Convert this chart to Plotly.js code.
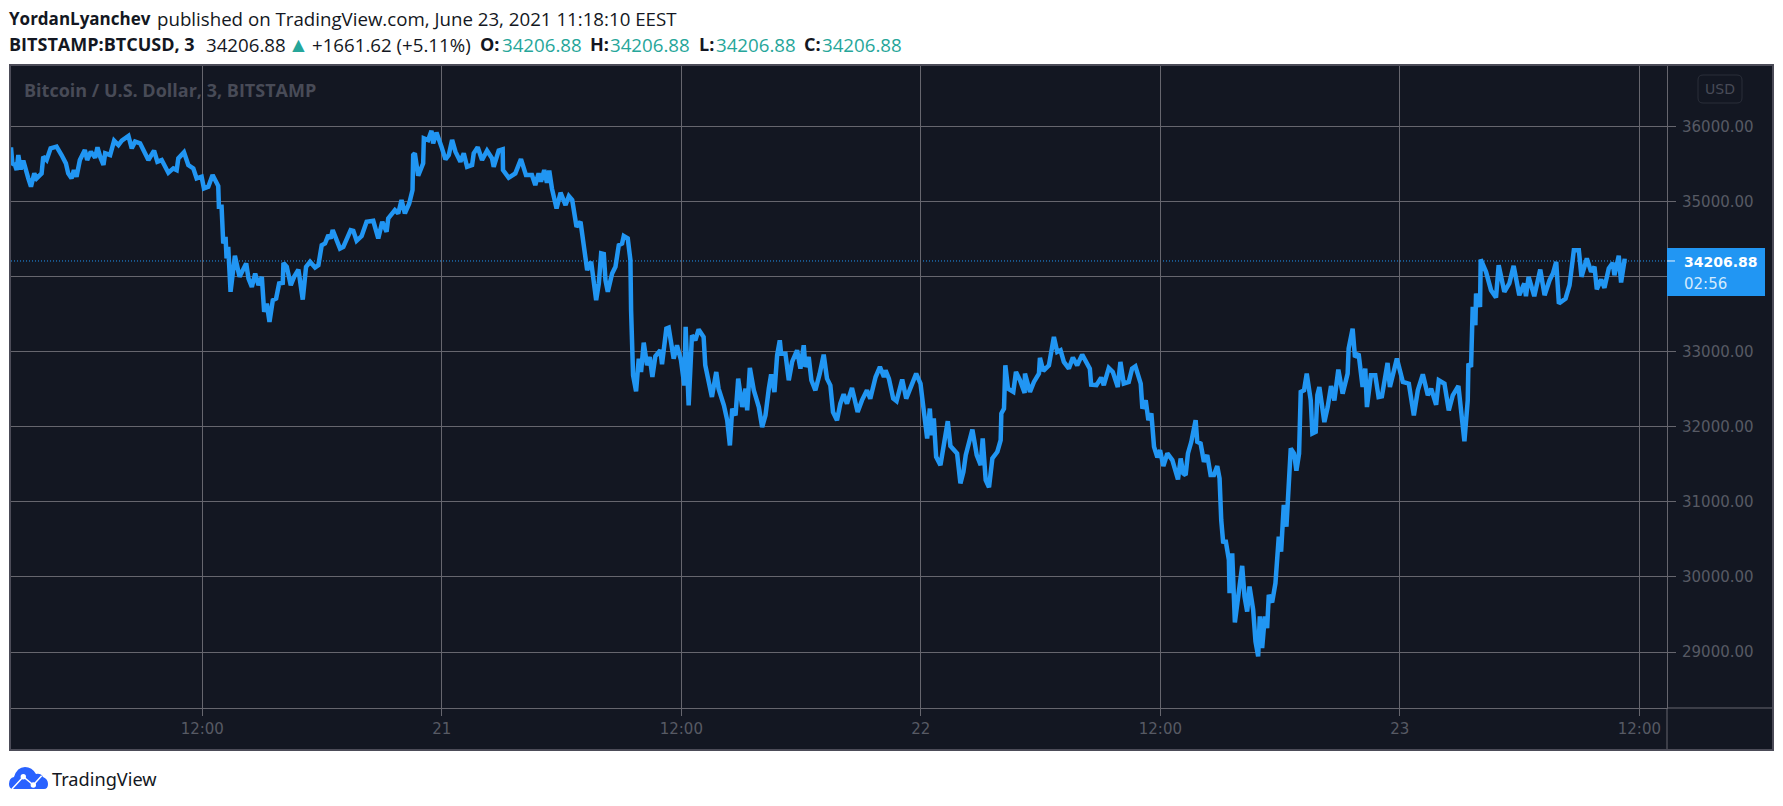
<!DOCTYPE html>
<html>
<head>
<meta charset="utf-8">
<script src="https://cdn.plot.ly/plotly-3.0.1.min.js"></script>
<style>html,body{margin:0;padding:0;background:#fff;overflow:hidden}</style>
</head>
<body>
<div id="myDiv" style="width:1783px;height:806px"></div>
<script>
// minutes since 2021-06-20 00:00
var minutes = [145,149,157,162,167,174,182,190,197,205,215,222,237,242,252,264,282,297,310,317,327,334,342,352,367,374,385,398,405,413,423,428,443,455,468,478,498,508,518,533,558,575,585,598,618,633,643,648,665,678,693,703,718,725,738,751,768,770,778,783,790,793,798,805,818,832,842,852,859,869,879,889,899,906,914,922,932,942,951,962,964,974,986,996,1009,1022,1032,1044,1059,1069,1079,1089,1099,1106,1112,1124,1134,1144,1154,1166,1174,1184,1199,1214,1234,1249,1261,1274,1279,1299,1309,1319,1329,1342,1352,1354,1359,1369,1384,1386,1399,1409,1414,1424,1439,
1451,1461,1471,1481,1496,1506,1516,1531,1536,1548,1561,1576,1591,1596,1611,1623,1624,1641,1661,1678,1693,1711,1721,1731,1738,1748,1756,1763,1771,1785,1797,1812,1822,1832,1845,1857,1867,1877,1889,1897,1904,1912,1919,1927,1932,1939,1952,1962,1972,1982,1987,1999,2007,2009,2012,2015,2024,2032,2039,2047,2057,2065,2073,2082,2097,2102,2115,2122,2137,2147,2159,2169,2173,2182,2192,2202,2212,2227,2232,2242,2252,2265,2272,2288,2298,2306,2313,2323,2331,2343,2353,2358,2366,2378,2393,2403,2413,2423,2430,2440,2448,2456,2460,2473,2483,2493,2508,2518,2528,2533,2543,2551,2563,2576,2588,2598,2608,2616,2628,2638,2648,2658,2673,2690,2703,2718,2728,2744,2757,
2769,2774,2784,2797,2807,2824,2836,2854,2866,2879,2884,2899,2907,2912,2919,2926,2939,2951,2961,2969,2989,2999,3008,3015,3025,3035,3048,3060,3066,3075,3085,3095,3110,3120,3122,3130,3134,3142,3158,3166,3178,3192,3193,3208,3220,3235,3238,3248,3265,3280,3290,3300,3310,3325,3337,3350,3365,3380,3388,3392,3408,3422,3430,3445,3457,3472,3480,3490,3505,3515,3525,3541,3546,3556,3564,3573,3581,3591,3599,3609,3621,3636,3653,3661,3669,3676,3683,3693,3706,3711,3721,3731,3741,3751,3761,3771,3778,3783,3789,3796,3806,3808,3816,3824,3836,3846,3853,3861,3868,3879,3886,3894,3899,3906,3914,3921,3926,3936,3946,3956,3963,3971,3979,3990,3992,4002,4009,4017,4022,4032,4040,4052,4057,4067,4072,
4078,4093,4103,4113,4123,4135,4148,4163,4166,4178,4185,4196,4208,4216,4221,4233,4246,4256,4266,4283,4290,4311,4329,4347,4362,4374,4389,4404,4414,4429,4437,4454,4467,4479,4496,4504,4514,4524,4526,4534,4539,4547,4549,4561,4563,4579,4594,4609,4617,4634,4649,4662,4679,4694,4699,4707,4724,4742,4755,4770,4780,4790,4798,4818,4830,4843,4858,4866,4882,4895,4905,4912,4925,4935,4948,4960,4965,4978,4985,4995,5002];
var prices = [35720,35507,35485,35418,35618,35427,35542,35440,35307,35196,35373,35307,35373,35596,35551,35707,35729,35618,35507,35373,35307,35418,35329,35551,35684,35551,35662,35582,35720,35596,35485,35640,35618,35809,35751,35809,35871,35707,35796,35773,35551,35676,35529,35551,35382,35440,35418,35573,35653,35485,35440,35307,35329,35173,35196,35351,35204,34929,34929,34440,34529,34240,34396,33796,34276,33996,34085,34174,33973,33862,34040,33885,33996,33529,33640,33396,33685,33707,33907,33916,34182,34129,33885,33996,34093,33693,34129,34196,34120,34151,34418,34440,34551,34507,34618,34462,34373,34396,34507,34618,34609,34476,34538,34729,34742,34507,34729,34596,34773,34885,34840,35018,34840,34973,35151,35618,35640,35342,35507,35840,35818,35942,35773,35916,35729,
35560,35618,35818,35662,35529,35640,35462,35485,35640,35720,35551,35676,35573,35462,35676,35693,35418,35316,35373,35564,35351,35351,35218,35373,35262,35418,35249,35409,35173,34907,35116,34951,35071,35018,34662,34729,34351,34085,34196,33907,33685,33907,34307,34298,33951,33796,34040,34129,34418,34440,34538,34507,34218,33551,32929,32685,32471,32907,32729,33120,32818,32929,32662,32938,33018,32831,33307,33320,32907,33085,32885,32551,33329,32285,33218,33151,33294,33196,32818,32609,32396,32729,32507,32285,32085,31751,32240,32151,32640,32262,32507,32218,32782,32485,32262,31996,32151,32507,32698,32462,32951,33151,32973,32973,32618,32862,33018,32773,33085,32796,32929,32618,32485,32707,32960,32640,32551,32196,32085,32307,32431,32307,32516,32196,32351,32485,32373,32662,32796,
32663,32752,32641,32375,32340,32628,32375,32553,32708,32575,32398,31844,32242,31888,32110,31600,31489,31799,32074,31742,31644,31246,31401,31622,31799,31963,31622,31489,31844,31290,31193,31578,31667,31822,32176,32242,32818,32508,32464,32730,32619,32451,32708,32464,32597,32708,32916,32743,32818,33195,32996,33018,32863,32774,32920,32818,32960,32818,32774,32561,32553,32654,32553,32783,32730,32530,32863,32575,32597,32774,32805,32575,32242,32353,32087,32176,31733,31591,31689,31476,31644,31556,31299,31578,31379,31356,31644,31799,32087,31799,31777,31534,31622,31356,31356,31476,31312,30758,30448,30493,30227,29784,30315,29394,29828,30147,29740,29540,29872,29562,29141,28942,29474,29053,29474,29319,29762,29660,29917,30537,30338,30958,30670,31379,31711,31644,31414,31644,32464,32486,32708,32353,31910,31932,32420,
32529,32062,32262,32542,32351,32760,32440,32707,33040,33307,32929,32973,32529,32773,32262,32685,32685,32396,32405,32849,32529,32907,32596,32573,32151,32485,32698,32418,32507,32293,32618,32573,32218,32418,32542,32262,31805,32351,32840,32796,33596,33351,33773,33596,34227,34062,33818,33720,34151,33796,33907,34142,33751,33907,33738,33996,33738,34093,33751,33951,34040,34196,33640,33707,33884,34351,34351,33996,34240,34062,34129,33831,33960,33849,34107,34182,34018,34276,33920,34209,34206.88];

var lastPrice = 34206.88;
var priceTicks = [29000,30000,31000,32000,33000,34000,35000,36000];
var priceLabels = ['29000.00','30000.00','31000.00','32000.00','33000.00','','35000.00','36000.00'];
var timeTicks = ['2021-06-20 12:00','2021-06-21 00:00','2021-06-21 12:00','2021-06-22 00:00','2021-06-22 12:00','2021-06-23 00:00','2021-06-23 12:00'];
var timeLabels = ['12:00','21','12:00','22','12:00','23','12:00'];

var times = minutes.map(function(m){
    return new Date(Date.UTC(2021,5,20,0,m)).toISOString().slice(0,16).replace('T',' ');
});

// plot box on the page, everything outside of it is placed in page pixels
var L=11, T=66, R=1667, B=708;
function px(x){ return (x-L)/(R-L); }
function py(y){ return (B-y)/(B-T); }
function pt(x,y){ return px(x)+' '+py(y); }

var GREY='#484b57', AXIS='#575a64', GRID='#66666e', TEAL='#26a69a', INK='#131722', BLUE='#2196f3';

function txt(x,y,text,size,color,font){
    return {xref:'paper',yref:'paper',x:px(x),y:py(y),text:text,showarrow:false,
        xanchor:'left',yanchor:'middle',borderpad:0,
        font:{size:size,color:color,family:font||'Open Sans'}};
}

var annotations = [
    txt(8,19,'<b>YordanLyanchev</b>',17,INK),
    txt(156,19,'published on TradingView.com, June 23, 2021 11:18:10 EEST',18.7,INK),
    txt(8,44,'<b>BITSTAMP:BTCUSD, 3</b>',18,INK),
    txt(205,44,'34206.88',18.7,INK),
    txt(287,44,'▲',21,TEAL),
    txt(311,44,'+1661.62 (+5.11%)',18.7,INK),
    txt(479,44,'<b>O:</b>',18,INK),
    txt(501,44,'34206.88',18.7,TEAL),
    txt(589,44,'<b>H:</b>',18,INK),
    txt(609,44,'34206.88',18.7,TEAL),
    txt(698,44,'<b>L:</b>',18,INK),
    txt(715,44,'34206.88',18.7,TEAL),
    txt(803,44,'<b>C:</b>',18,INK),
    txt(821,44,'34206.88',18.7,TEAL),
    txt(23,90,'<b>Bitcoin / U.S. Dollar, 3, BITSTAMP</b>',18,GREY),
    txt(1704,89,'USD',14,GREY,'DejaVu Sans'),
    txt(1683,262,'<b>34206.88</b>',14,'#ffffff','DejaVu Sans'),
    txt(1683,284,'02:56',15,'#d3eafd','DejaVu Sans'),
    txt(50.5,779,'TradingView',18.2,INK,'Noto Sans')
];

function rounded(x0,y0,x1,y1,r){
    return 'M'+pt(x0+r,y0)+' L'+pt(x1-r,y0)+' Q'+pt(x1,y0)+' '+pt(x1,y0+r)+' L'+pt(x1,y1-r)+' Q'+pt(x1,y1)+' '+pt(x1-r,y1)+
        ' L'+pt(x0+r,y1)+' Q'+pt(x0,y1)+' '+pt(x0,y1-r)+' L'+pt(x0,y0+r)+' Q'+pt(x0,y0)+' '+pt(x0+r,y0)+' Z';
}

var cloud = 'M'+pt(12,789)+' Q'+pt(9,788)+' '+pt(9,784)+' Q'+pt(9,778)+' '+pt(14,777)+' Q'+pt(17,767)+' '+pt(25,767)+
    ' Q'+pt(32,767)+' '+pt(36,774)+' Q'+pt(41,773)+' '+pt(43,777)+' Q'+pt(48,779)+' '+pt(48,784)+
    ' Q'+pt(48,789)+' '+pt(44,789)+' Z';

var shapes = [
    // dark panel with its frame, reaches past the plot area
    {type:'rect',layer:'below',xref:'paper',yref:'paper',x0:px(10),x1:px(1773),y0:py(65),y1:py(750),
        fillcolor:'#131722',line:{color:'#4c4c58',width:2}},
    // time axis strip and price axis strip separators
    {type:'line',layer:'below',xref:'paper',yref:'paper',x0:1,x1:px(1772),y0:0,y1:0,line:{color:GRID,width:1}},
    {type:'line',layer:'below',xref:'paper',yref:'paper',x0:1,x1:1,y0:0,y1:py(749),line:{color:GRID,width:1}},
    {type:'line',layer:'below',xref:'paper',yref:'y',x0:0,x1:1,y0:lastPrice,y1:lastPrice,line:{color:BLUE,width:1,dash:'1px,2px'}},
    {type:'rect',layer:'above',xref:'paper',yref:'paper',x0:px(1667),x1:px(1765),y0:py(248),y1:py(296),fillcolor:BLUE,line:{width:0}},
    {type:'line',layer:'above',xref:'paper',yref:'y',x0:1,x1:px(1675),y0:lastPrice,y1:lastPrice,line:{color:'#e8f3fe',width:1}},
    {type:'path',layer:'below',xref:'paper',yref:'paper',path:rounded(1698,75,1742,103,5),line:{color:'#2a2e39',width:1}},
    // TradingView logo
    {type:'path',xref:'paper',yref:'paper',path:cloud,fillcolor:'#2962ff',line:{width:0}},
    {type:'path',xref:'paper',yref:'paper',path:'M'+pt(12,789)+' L'+pt(23.3,776.7)+' L'+pt(33.3,785)+' L'+pt(41.7,775.7),line:{color:'#ffffff',width:1.5}},
    {type:'circle',xref:'paper',yref:'paper',x0:px(20.6),x1:px(26),y0:py(774),y1:py(779.4),fillcolor:'#ffffff',line:{width:0}},
    {type:'circle',xref:'paper',yref:'paper',x0:px(30.6),x1:px(36),y0:py(782.3),y1:py(787.7),fillcolor:'#ffffff',line:{width:0}}
];

var trace1 = {
    x: times,
    y: prices,
    type: 'scatter',
    mode: 'lines',
    line: {color: BLUE, width: 4.5},
    hoverinfo: 'skip'
};

var layout = {
    width: 1783,
    height: 806,
    margin: {l: L, r: 1783-R, t: T, b: 806-B, pad: 0},
    paper_bgcolor: '#ffffff',
    plot_bgcolor: 'rgba(0,0,0,0)',
    showlegend: false,
    annotations: annotations,
    shapes: shapes,
    xaxis: {
        type: 'date',
        range: ['2021-06-20 02:25', '2021-06-23 13:23'],
        tickmode: 'array', tickvals: timeTicks, ticktext: timeLabels,
        tickangle: 0,
        ticks: 'outside', ticklen: 7, tickcolor: GRID, tickwidth: 1,
        gridcolor: GRID, gridwidth: 1,
        showline: true, linecolor: GRID, linewidth: 1,
        tickfont: {family: 'DejaVu Sans', size: 15, color: AXIS}
    },
    yaxis: {
        side: 'right',
        range: [28255, 36803],
        tickmode: 'array', tickvals: priceTicks, ticktext: priceLabels,
        ticks: 'outside', ticklen: 8, tickcolor: GRID, tickwidth: 1,
        ticklabelstandoff: 3,
        gridcolor: GRID, gridwidth: 1,
        zeroline: false,
        showline: true, linecolor: GRID, linewidth: 1,
        tickfont: {family: 'DejaVu Sans', size: 15, color: AXIS}
    }
};

Plotly.newPlot('myDiv', [trace1], layout, {displayModeBar: false, staticPlot: true});
</script>
</body>
</html>
